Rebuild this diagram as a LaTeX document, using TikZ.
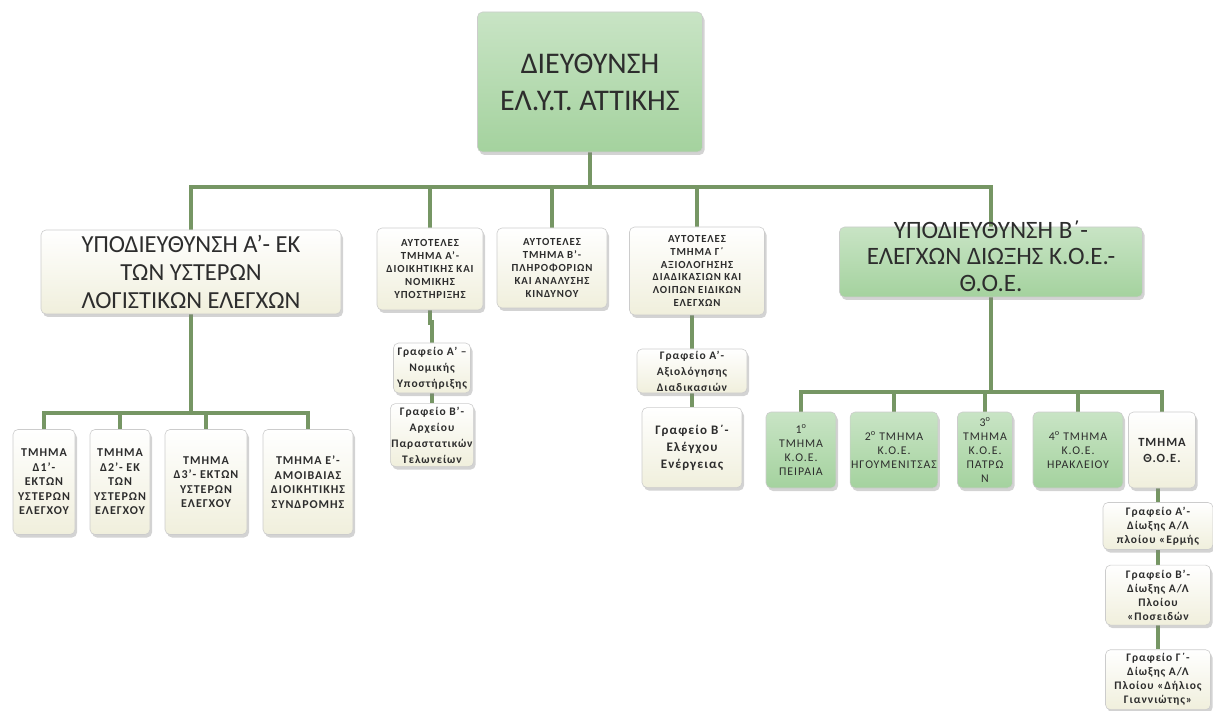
\documentclass[tikz,border=0pt]{standalone}
\usepackage{fontspec}
\setmainfont{Carlito}
\newfontfamily\boxfont[LetterSpace=8]{Carlito}
\usetikzlibrary{positioning, backgrounds, shadows}
\definecolor{elytgreen}{RGB}{164,210,158}
\definecolor{elytcream}{RGB}{240,239,220}
\definecolor{elytline}{RGB}{118,150,100}
\definecolor{elyttext}{RGB}{45,45,45}

\begin{document}
\begin{tikzpicture}[x=1pt, y=-1pt,
    unit/.style={rounded corners=5pt, draw=gray!40, line width=0.6pt, align=center, inner sep=1pt, text=elyttext,
        drop shadow={opacity=0.35, shadow xshift=2pt, shadow yshift=-3pt}},
    greenunit/.style={unit, top color=elytgreen!60!white, bottom color=elytgreen},
    creamunit/.style={unit, top color=white, bottom color=elytcream},
    bigtext/.style={font=\fontsize{24.5}{28}\selectfont},
    smalltext/.style={font=\boxfont\bfseries\fontsize{10.8}{12.8}\selectfont},
    officetext/.style={font=\boxfont\bfseries\fontsize{11.5}{16}\selectfont},
    shiptext/.style={font=\boxfont\bfseries\fontsize{11.5}{14}\selectfont},
    midtext/.style={font=\boxfont\bfseries\fontsize{12}{14.5}\selectfont},
    greentext/.style={font=\boxfont\fontsize{11.8}{14}\selectfont},
    link/.style={draw=elytline, line width=4.5pt}
]
\useasboundingbox (0,0) rectangle (1213,711);

% director
\node[greenunit, minimum width=225pt, minimum height=140pt, font=\fontsize{30}{37}\selectfont] (dir) at (590,82)
    {ΔΙΕΥΘΥΝΣΗ\\ΕΛ.Υ.Τ. ΑΤΤΙΚΗΣ};

% second level
\node[creamunit, bigtext, minimum width=300pt, minimum height=84pt] (subA) at (191,272)
    {ΥΠΟΔΙΕΥΘΥΝΣΗ Α’- ΕΚ\\ΤΩΝ ΥΣΤΕΡΩΝ\\ΛΟΓΙΣΤΙΚΩΝ ΕΛΕΓΧΩΝ};
\node[creamunit, smalltext, minimum width=106pt, minimum height=82pt] (autA) at (430,269)
    {ΑΥΤΟΤΕΛΕΣ\\ΤΜΗΜΑ Α’-\\ΔΙΟΙΚΗΤΙΚΗΣ ΚΑΙ\\ΝΟΜΙΚΗΣ\\ΥΠΟΣΤΗΡΙΞΗΣ};
\node[creamunit, smalltext, minimum width=110pt, minimum height=80pt] (autB) at (552,268)
    {ΑΥΤΟΤΕΛΕΣ\\ΤΜΗΜΑ Β’-\\ΠΛΗΡΟΦΟΡΙΩΝ\\ΚΑΙ ΑΝΑΛΥΣΗΣ\\ΚΙΝΔΥΝΟΥ};
\node[creamunit, smalltext, minimum width=135pt, minimum height=88pt] (autG) at (697,271)
    {ΑΥΤΟΤΕΛΕΣ\\ΤΜΗΜΑ Γ΄\\ΑΞΙΟΛΟΓΗΣΗΣ\\ΔΙΑΔΙΚΑΣΙΩΝ ΚΑΙ\\ΛΟΙΠΩΝ ΕΙΔΙΚΩΝ\\ΕΛΕΓΧΩΝ};
\node[greenunit, minimum width=303pt, minimum height=70pt] (subB) at (991,262) {};
\node[bigtext, align=center, text=elyttext, inner sep=0pt, font=\fontsize{25}{26.5}\selectfont] (subBtext) at (991,256)
    {ΥΠΟΔΙΕΥΘΥΝΣΗ Β΄-\\ΕΛΕΓΧΩΝ ΔΙΩΞΗΣ Κ.Ο.Ε.-\\Θ.Ο.Ε.};

% offices of the independent units
\node[creamunit, officetext, minimum width=77pt, minimum height=50pt] (grAA) at (432,368)
    {Γραφείο Α’ –\\Νομικής\\Υποστήριξης};
\node[creamunit, officetext, minimum width=81pt, minimum height=63pt, below=10pt of grAA] (grAB)
    {Γραφείο Β’-\\Αρχείου\\Παραστατικών\\Τελωνείων};
\node[creamunit, officetext, minimum width=110pt, minimum height=44pt] (grGA) at (692,371)
    {Γραφείο Α’-\\Αξιολόγησης\\Διαδικασιών};
\node[creamunit, officetext, font=\boxfont\bfseries\fontsize{13}{17}\selectfont, minimum width=100pt, minimum height=80pt, below=14pt of grGA] (grGB)
    {Γραφείο Β΄-\\Ελέγχου\\Ενέργειας};

% departments of subdirectorate A
\node[creamunit, midtext, minimum width=62pt, minimum height=105pt] (d1) at (44,482)
    {ΤΜΗΜΑ\\Δ1’-\\ΕΚΤΩΝ\\ΥΣΤΕΡΩΝ\\ΕΛΕΓΧΟΥ};
\node[creamunit, midtext, minimum width=60pt, minimum height=105pt] (d2) at (120,482)
    {ΤΜΗΜΑ\\Δ2’- ΕΚ\\ΤΩΝ\\ΥΣΤΕΡΩΝ\\ΕΛΕΓΧΟΥ};
\node[creamunit, midtext, minimum width=82pt, minimum height=105pt] (d3) at (206,482)
    {ΤΜΗΜΑ\\Δ3’- ΕΚΤΩΝ\\ΥΣΤΕΡΩΝ\\ΕΛΕΓΧΟΥ};
\node[creamunit, midtext, minimum width=90pt, minimum height=105pt] (dE) at (308,482)
    {ΤΜΗΜΑ Ε’-\\ΑΜΟΙΒΑΙΑΣ\\ΔΙΟΙΚΗΤΙΚΗΣ\\ΣΥΝΔΡΟΜΗΣ};

% departments of subdirectorate B
\node[greenunit, greentext, minimum width=70pt, minimum height=76pt] (koe1) at (801,450)
    {1\textsuperscript{ο}\\ΤΜΗΜΑ\\Κ.Ο.Ε.\\ΠΕΙΡΑΙΑ};
\node[greenunit, greentext, minimum width=82pt, minimum height=76pt] (koe2) at (894,450)
    {2\textsuperscript{ο} ΤΜΗΜΑ\\Κ.Ο.Ε.\\ΗΓΟΥΜΕΝΙΤΣΑΣ};
\node[greenunit, greentext, minimum width=55pt, minimum height=76pt] (koe3) at (985,450)
    {3\textsuperscript{ο}\\ΤΜΗΜΑ\\Κ.Ο.Ε.\\ΠΑΤΡΩ\\Ν};
\node[greenunit, greentext, minimum width=90pt, minimum height=76pt] (koe4) at (1078,450)
    {4\textsuperscript{ο} ΤΜΗΜΑ\\Κ.Ο.Ε.\\ΗΡΑΚΛΕΙΟΥ};
\node[creamunit, font=\boxfont\bfseries\fontsize{12.5}{16}\selectfont, minimum width=67pt, minimum height=76pt] (thoe) at (1162,450)
    {ΤΜΗΜΑ\\Θ.Ο.Ε.};

% pursuit offices
\node[creamunit, shiptext, minimum width=110pt, minimum height=47pt] (vesA) at (1158,526)
    {Γραφείο Α’-\\Δίωξης Α/Λ\\πλοίου «Ερμής};
\node[creamunit, shiptext, minimum width=105pt, minimum height=60pt, below=15pt of vesA] (vesB)
    {Γραφείο Β’-\\Δίωξης Α/Λ\\Πλοίου\\«Ποσειδών};
\node[creamunit, shiptext, minimum width=105pt, minimum height=60pt, below=24pt of vesB] (vesG)
    {Γραφείο Γ΄-\\Δίωξης Α/Λ\\Πλοίου «Δήλιος\\Γιαννιώτης»};

% connectors
\begin{scope}[on background layer]
\coordinate (mainbus) at (590,187);
\draw[link] (dir) -- (mainbus);
\foreach \n in {subA, autA, autB, autG, subB}
    \draw[link] (mainbus) -| (\n.north);

\coordinate (busA) at (subA.south |- 0,413);
\draw[link] (subA) -- (busA);
\foreach \n in {d1, d2, d3, dE}
    \draw[link] (busA) -| (\n.north);

\coordinate (busB) at (subB.south |- 0,392);
\draw[link] (subB) -- (busB);
\foreach \n in {koe1, koe2, koe3, koe4, thoe}
    \draw[link] (busB) -| (\n.north);

\draw[link] (autA.south) -- ++(0,12) -| (grAA.north);
\draw[link] (grAA) -- (grAB);
\draw[link] (grGA.north |- autG.south) -- (grGA.north);
\draw[link] (grGA) -- (grGB);
\draw[link] (vesA.north |- thoe.south) -- (vesA.north);
\draw[link] (vesA) -- (vesB);
\draw[link] (vesB) -- (vesG);
\end{scope}
\end{tikzpicture}
\end{document}
